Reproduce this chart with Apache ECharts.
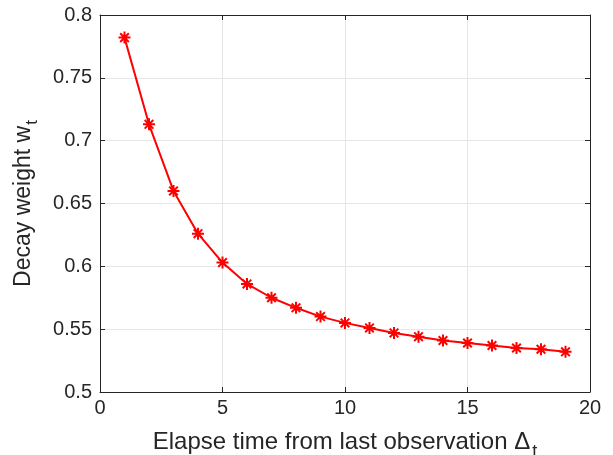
<!DOCTYPE html>
<html>
<head>
<meta charset="utf-8">
<script src="https://cdn.jsdelivr.net/npm/echarts@6/dist/echarts.min.js"></script>
<style>
html, body { margin: 0; padding: 0; background: #fff; }
#main { width: 613px; height: 455px; }
</style>
</head>
<body>
<div id="main"></div>
<script>
var elapse = [1, 2, 3, 4, 5, 6, 7, 8, 9, 10, 11, 12, 13, 14, 15, 16, 17, 18, 19];
var weight = [0.782, 0.713, 0.660, 0.626, 0.603, 0.586, 0.575, 0.567, 0.560, 0.555,
              0.551, 0.547, 0.544, 0.541, 0.539, 0.537, 0.535, 0.534, 0.532];

var myChart = echarts.init(document.getElementById('main'));
var font = 'Liberation Sans, Arial, sans-serif';
var axisColor = '#262626';

// MATLAB style '*' marker
var star = 'path://M0 -6 L0 6 M-6 0 L6 0 M-4.3 -4.3 L4.3 4.3 M-4.3 4.3 L4.3 -4.3';

// top / right axes only draw the box and the inner ticks
function boxAxis(pos, isX) {
    return {
        position: pos,
        type: 'value',
        min: isX ? 0 : 0.5,
        max: isX ? 20 : 0.8,
        interval: isX ? 5 : 0.05,
        axisLine: { show: true, onZero: false, lineStyle: { color: axisColor, width: 1 } },
        axisTick: { show: true, inside: true, length: 5, lineStyle: { color: axisColor } },
        axisLabel: { show: false },
        splitLine: { show: false }
    };
}

var option = {
    animation: false,
    grid: { left: 100, right: 23, top: 15, bottom: 63, outerBoundsMode: 'none' },
    xAxis: [
        {
            type: 'value',
            position: 'bottom',
            min: 0, max: 20, interval: 5,
            name: 'Elapse time from last observation {d|Δ}{s|t}',
            nameLocation: 'middle',
            nameGap: 31,
            nameTextStyle: {
                color: axisColor, fontFamily: font, fontSize: 24,
                rich: {
                    d: { fontFamily: font, fontSize: 24, color: axisColor },
                    s: { fontFamily: font, fontSize: 18, color: axisColor, padding: [20, 0, 0, 2] }
                }
            },
            axisLine: { show: true, onZero: false, lineStyle: { color: axisColor, width: 1 } },
            axisTick: { show: true, inside: true, length: 5, lineStyle: { color: axisColor } },
            axisLabel: { color: axisColor, fontFamily: font, fontSize: 20, margin: 6 },
            splitLine: { show: true, lineStyle: { color: '#e6e6e6', width: 1 } }
        },
        boxAxis('top', true)
    ],
    yAxis: [
        {
            type: 'value',
            position: 'left',
            min: 0.5, max: 0.8, interval: 0.05,
            name: 'Decay weight w{s|t}',
            nameLocation: 'middle',
            nameGap: 59,
            nameRotate: 90,
            nameTextStyle: {
                color: axisColor, fontFamily: font, fontSize: 23,
                rich: {
                    s: { fontFamily: font, fontSize: 17, color: axisColor, padding: [18, 0, 0, 1] }
                }
            },
            axisLine: { show: true, onZero: false, lineStyle: { color: axisColor, width: 1 } },
            axisTick: { show: true, inside: true, length: 5, lineStyle: { color: axisColor } },
            axisLabel: { color: axisColor, fontFamily: font, fontSize: 20, margin: 8 },
            splitLine: { show: true, lineStyle: { color: '#e6e6e6', width: 1 } }
        },
        boxAxis('right', false)
    ],
    series: [
        {
            type: 'line',
            data: elapse.map(function (x, i) { return [x, weight[i]]; }),
            lineStyle: { color: '#ff0000', width: 2 },
            symbol: star,
            symbolSize: 12,
            itemStyle: { color: '#ff0000', borderColor: '#ff0000', borderWidth: 2 }
        }
    ]
};

myChart.setOption(option);
</script>
</body>
</html>
